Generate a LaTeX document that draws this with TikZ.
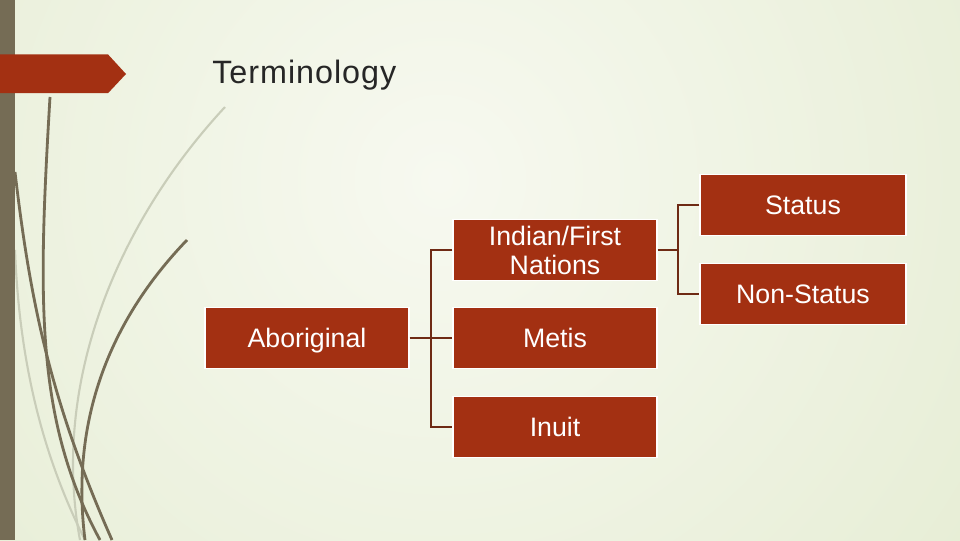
\documentclass[tikz,border=0pt]{standalone}
\usepackage{fontspec}
\setmainfont{Liberation Sans}
\newfontfamily\titlefont[LetterSpace=3]{Liberation Sans}
\usepackage{tikz}
\usetikzlibrary{calc,positioning,backgrounds}
\definecolor{nenxanh}{HTML}{D9E4BF}
\definecolor{nensang}{HTML}{F7F9F0}
\definecolor{cotnau}{HTML}{756C55}
\definecolor{hopdo}{HTML}{A33012}
\definecolor{duongnoi}{HTML}{6E2A14}
\definecolor{coxam}{HTML}{C9CDB9}
\definecolor{chuden}{HTML}{262626}
\begin{document}
\begin{tikzpicture}[
		hop/.style={fill=hopdo,draw=white,line width=0.8pt,text=white,minimum width=5.1cm,minimum height=1.525cm,inner sep=0pt,text depth=0pt,align=center,font=\fontsize{19}{20.6}\selectfont},
		noi/.style={draw=duongnoi,line width=1.1pt},
		cotoi/.style={draw=cotnau,line width=2pt},
		cosang/.style={draw=coxam,line width=1.5pt}]
			\useasboundingbox (0,0) rectangle (24,13.5);
			\fill[nenxanh] (0,0) rectangle (24,13.5);
			\begin{scope}
				\clip (0,0) rectangle (24,13.5);
				\shade[inner color=nensang,outer color=nenxanh] (11,9) circle (30);
			\end{scope}
			\draw[cosang] (5.625,10.825) .. controls (3,8) and (1.25,4) .. (2,0);
			\draw[cosang] (0.375,7.25) .. controls (0.5,4) and (1.25,1.75) .. (2.125,0);
			\draw[cotoi] (1.25,11.075) .. controls (0.95,6) and (0.875,3) .. (2.5,0);
			\draw[cotoi] (0.375,9.2) .. controls (0.75,6) and (1.25,3.5) .. (2.8,0);
			\draw[cotoi] (4.675,7.5) .. controls (2.75,5.5) and (1.75,3) .. (2.125,0);
			\fill[cotnau] (0,0) rectangle (0.375,13.5);
			\fill[hopdo] (0,12.14) -- (2.7,12.14) -- (3.15,11.65) -- (2.7,11.17) -- (0,11.17) -- cycle;
			\node[anchor=base west,inner sep=0pt,text=chuden,font=\titlefont\fontsize{23}{27}\selectfont] (tieude) at (5.3,11.42) {Terminology};
			\node[hop] (abor) at (7.675,5.05) {Aboriginal};
			\node[hop] (indian) at (13.875,7.25) {Indian/First\\Nations};
			\node[hop] (metis) at (13.875,5.05) {Metis};
			\node[hop] (inuit) at (13.875,2.825) {Inuit};
			\node[hop,minimum width=5.15cm] (status) at (20.075,8.375) {Status};
			\node[hop,minimum width=5.15cm] (nonstatus) at (20.075,6.15) {Non-Status};
			\coordinate (re1) at (10.775,5.05);
			\coordinate (re2) at (16.95,7.25);
			\draw[noi] (abor.east) -- (metis.west);
			\draw[noi] (indian.west) -| (re1) |- (inuit.west);
			\draw[noi] (indian.east) -- (re2);
			\draw[noi] (status.west) -| (re2) |- (nonstatus.west);
		\end{tikzpicture}
\end{document}
